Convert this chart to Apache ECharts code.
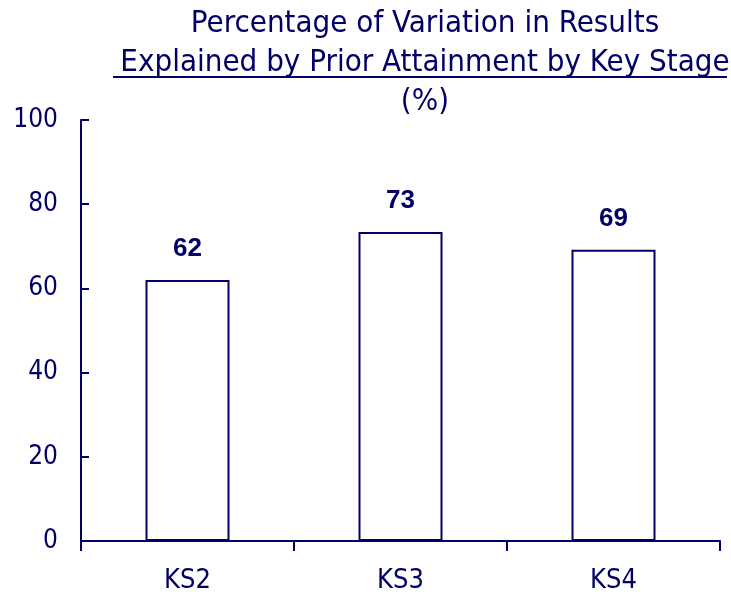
<!DOCTYPE html>
<html>
<head>
<meta charset="utf-8">
<script src="https://cdn.jsdelivr.net/npm/echarts@6/dist/echarts.min.js"></script>
<style>
  html, body { margin: 0; padding: 0; background: #fff; }
  #chart { width: 731px; height: 594px; }
</style>
</head>
<body>
<div id="chart"></div>
<script>
// Chart data
const categories = ['KS2', 'KS3', 'KS4']
const values = [62, 73.4, 69.2]
const yTicks = [0, 20, 40, 60, 80, 100]

const navy = '#000066'
const font = '"DejaVu Sans Condensed", "DejaVu Sans", sans-serif'

const chart = echarts.init(document.getElementById('chart'))

chart.setOption({
  backgroundColor: '#fff',
  animation: false,
  title: {
    text: 'Percentage of Variation in Results\nExplained by Prior Attainment by Key Stage\n(%)',
    left: 420,
    top: -1,
    textAlign: 'center',
    textStyle: {
      fontFamily: font,
      fontWeight: 'normal',
      fontSize: 31,
      lineHeight: 39,
      color: navy
    }
  },
  // underline under the second title line
  graphic: [{
    type: 'line',
    shape: { x1: 113, y1: 77, x2: 727, y2: 77 },
    style: { stroke: navy, lineWidth: 2 }
  }],
  grid: { left: 81, right: 11, top: 120, bottom: 52 },
  xAxis: {
    type: 'category',
    data: categories,
    axisLine: { lineStyle: { color: navy, width: 2 } },
    axisTick: { show: true, length: 10, inside: false, lineStyle: { color: navy, width: 2 } },
    axisLabel: { color: navy, fontFamily: font, fontSize: 27, margin: 26 },
    splitLine: { show: false }
  },
  yAxis: {
    type: 'value',
    min: yTicks[0],
    max: yTicks[yTicks.length - 1],
    interval: 20,
    axisLine: { show: true, lineStyle: { color: navy, width: 2 } },
    axisTick: { show: true, inside: true, length: 8, lineStyle: { color: navy, width: 2 } },
    axisLabel: { color: navy, fontFamily: font, fontSize: 26, margin: 23 },
    splitLine: { show: false }
  },
  series: [{
    type: 'bar',
    data: values,
    barWidth: 84,
    itemStyle: { color: '#fff', borderColor: navy, borderWidth: 2 },
    label: {
      show: true,
      position: 'top',
      distance: 18,
      color: navy,
      fontFamily: '"Liberation Sans", Arial, sans-serif',
      fontWeight: 'bold',
      fontSize: 26,
      formatter: p => Math.round(p.value)
    }
  }]
})
</script>
</body>
</html>
